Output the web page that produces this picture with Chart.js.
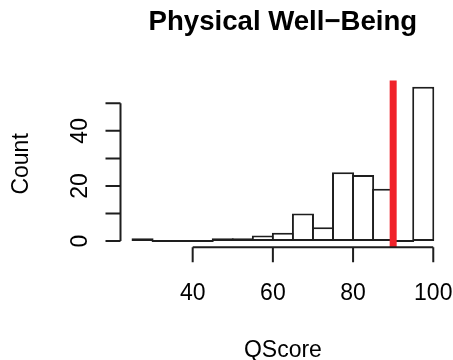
<!DOCTYPE html>
<html>
<head>
<meta charset="utf-8">
<script src="https://cdn.jsdelivr.net/npm/chart.js@4/dist/chart.umd.min.js"></script>
<style>
  html, body { margin: 0; padding: 0; background: #ffffff; }
  #c { display: block; }
</style>
</head>
<body>
<canvas id="c" width="453" height="360"></canvas>
<script>
// Histogram of QScore values, 5-point bins
const binStarts = [25, 30, 35, 40, 45, 50, 55, 60, 65, 70, 75, 80, 85, 90, 95];
const binWidth = 5;
const counts = [1, 0, 0, 0, 1, 1, 2, 3, 10, 5, 25, 24, 19, 0, 56];

// Axis ticks and labels
const xTicks = [40, 60, 80, 100];
const xTickLabels = ['40', '60', '80', '100'];
const yTicks = [0, 10, 20, 30, 40, 50];
const yTickLabels = ['0', '', '20', '', '40', ''];

// Reference cut-off marked with a vertical line
const cutoff = 90;

const titleText = 'Physical Well\u2212Being';
const xTitle = 'QScore';
const yTitle = 'Count';

const FONT = '"Liberation Sans", Helvetica, Arial, sans-serif';
const BASE = 23;
const INK = '#1e1e1e';

// Plot ranges extended by 4% on each side
const xLo = binStarts[0];
const xHi = binStarts[binStarts.length - 1] + binWidth;
const xPad = (xHi - xLo) * 0.04;
const yHi = Math.max(...counts);
const yPad = yHi * 0.04;

const axesPlugin = {
  id: 'baseAxes',
  afterDatasetsDraw(chart) {
    const { ctx, chartArea: a, scales: { x, y } } = chart;
    ctx.save();

    // cut-off line
    const cx = x.getPixelForValue(cutoff);
    ctx.strokeStyle = '#f0222a';
    ctx.lineWidth = 7;
    ctx.beginPath();
    ctx.moveTo(cx, a.top);
    ctx.lineTo(cx, a.bottom);
    ctx.stroke();

    ctx.strokeStyle = INK;
    ctx.lineWidth = 2;
    ctx.lineCap = 'butt';
    const tick = 15;

    // y axis
    ctx.beginPath();
    ctx.moveTo(a.left, y.getPixelForValue(yTicks[0]));
    ctx.lineTo(a.left, y.getPixelForValue(yTicks[yTicks.length - 1]));
    yTicks.forEach(v => {
      const py = y.getPixelForValue(v);
      ctx.moveTo(a.left - tick, py);
      ctx.lineTo(a.left, py);
    });
    ctx.stroke();

    // x axis
    ctx.beginPath();
    ctx.moveTo(x.getPixelForValue(xTicks[0]), a.bottom);
    ctx.lineTo(x.getPixelForValue(xTicks[xTicks.length - 1]), a.bottom);
    xTicks.forEach(v => {
      const px = x.getPixelForValue(v);
      ctx.moveTo(px, a.bottom);
      ctx.lineTo(px, a.bottom + tick);
    });
    ctx.stroke();

    ctx.fillStyle = '#000';
    ctx.font = BASE + 'px ' + FONT;

    // x tick labels
    ctx.textAlign = 'center';
    ctx.textBaseline = 'alphabetic';
    xTicks.forEach((v, i) => {
      ctx.fillText(xTickLabels[i], x.getPixelForValue(v), a.bottom + 53);
    });

    // x title
    ctx.fillText(xTitle, (a.left + a.right) / 2, a.bottom + 109.5);

    // y tick labels (rotated)
    yTicks.forEach((v, i) => {
      if (!yTickLabels[i]) return;
      ctx.save();
      ctx.translate(a.left - 33.5, y.getPixelForValue(v));
      ctx.rotate(-Math.PI / 2);
      ctx.fillText(yTickLabels[i], 0, 0);
      ctx.restore();
    });

    // y title
    ctx.save();
    ctx.translate(a.left - 92.5, (a.top + a.bottom) / 2);
    ctx.rotate(-Math.PI / 2);
    ctx.fillText(yTitle, 0, 0);
    ctx.restore();

    ctx.restore();
  }
};

new Chart(document.getElementById('c'), {
  type: 'bar',
  data: {
    datasets: [{
      data: binStarts.map((s, i) => ({ x: s + binWidth / 2, y: counts[i] })),
      backgroundColor: '#ffffff',
      borderColor: INK,
      borderWidth: 2,
      borderSkipped: false,
      barPercentage: 1.1,
      categoryPercentage: 1,
      minBarLength: 2
    }]
  },
  options: {
    responsive: false,
    animation: false,
    devicePixelRatio: 1,
    layout: { padding: { left: 120.5, right: 7.7, top: 0, bottom: 112.8 } },
    scales: {
      x: { type: 'linear', offset: false, min: xLo - xPad, max: xHi + xPad, display: false },
      y: { type: 'linear', min: -yPad, max: yHi + yPad, display: false }
    },
    plugins: {
      legend: { display: false },
      tooltip: { enabled: false },
      title: {
        display: true,
        text: titleText,
        color: '#000',
        font: { family: FONT, size: 27.6, weight: 'bold', lineHeight: 1.2 },
        padding: { top: 5.4, bottom: 42.1 }
      }
    }
  },
  plugins: [axesPlugin]
});
</script>
</body>
</html>
